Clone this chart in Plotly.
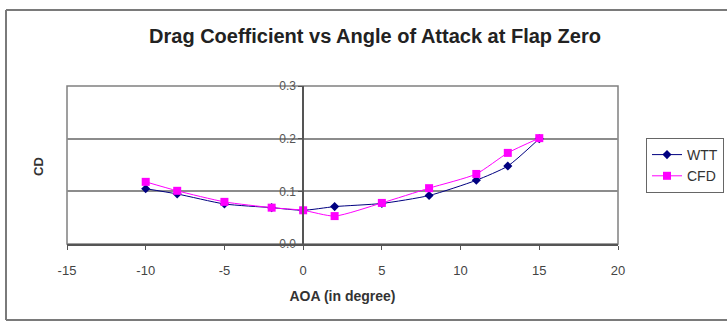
import plotly.graph_objects as go

aoa = [-10, -8, -5, -2, 0, 2, 5, 8, 11, 13, 15]
cd_wtt = [0.105, 0.095, 0.076, 0.069, 0.064, 0.071, 0.077, 0.092, 0.121, 0.148, 0.200]
cd_cfd = [0.118, 0.101, 0.080, 0.069, 0.064, 0.053, 0.078, 0.106, 0.133, 0.173, 0.201]
x_ticks = [-15, -10, -5, 0, 5, 10, 15, 20]
y_ticks = [0.0, 0.1, 0.2, 0.3]

W, H = 727, 322
L, R, T, B = 67, 618, 86, 244
pw, ph = R - L, B - T

fig = go.Figure()
fig.add_trace(go.Scatter(
    x=aoa, y=cd_wtt, name="WTT", mode="lines+markers",
    line=dict(color="#000080", width=1, shape="spline", smoothing=0.6),
    marker=dict(symbol="diamond", size=7, color="#000080"),
))
fig.add_trace(go.Scatter(
    x=aoa, y=cd_cfd, name="CFD", mode="lines+markers",
    line=dict(color="#FF00FF", width=1, shape="spline", smoothing=0.6),
    marker=dict(symbol="square", size=8, color="#FF00FF"),
))

def px(xp):
    return (xp - L) / pw

def py(yp):
    return (B - yp) / ph

border = dict(color="#7a7a7a", width=2)
shapes = [
    dict(type="rect", xref="paper", yref="paper", x0=0, x1=1, y0=0, y1=1,
         line=dict(color="#808080", width=1.5), layer="below"),
    # outer chart border (right edge is cut off in the picture)
    dict(type="line", xref="paper", yref="paper", x0=px(6), x1=px(6), y0=py(320), y1=py(10), line=border, layer="below"),
    dict(type="line", xref="paper", yref="paper", x0=px(6), x1=px(727), y0=py(10), y1=py(10), line=border, layer="below"),
    dict(type="line", xref="paper", yref="paper", x0=px(6), x1=px(727), y0=py(320), y1=py(320), line=border, layer="below"),
]

fig.update_layout(
    width=W, height=H,
    margin=dict(l=L, r=W - R, t=T, b=H - B, pad=0, autoexpand=False),
    paper_bgcolor="white", plot_bgcolor="white",
    font=dict(family="Liberation Sans, Arial, sans-serif", color="#333333", size=12),
    title=dict(text="<b>Drag Coefficient vs Angle of Attack at Flap Zero</b>",
               x=px(375), xanchor="center", xref="paper",
               y=1 - 36 / H, yanchor="middle",
               font=dict(size=20, color="#222222")),
    xaxis=dict(range=[-15, 20], tickvals=x_ticks, ticktext=[str(v) for v in x_ticks],
               showgrid=False, zeroline=False, showline=True, linecolor="#555555", linewidth=1.5,
               ticks="outside", ticklen=4, tickcolor="#555555", ticklabelstandoff=10,
               title=dict(text="<b>AOA (in degree)</b>", standoff=14, font=dict(size=14, color="#333333")),
               tickfont=dict(size=13, color="#444444"), fixedrange=True, automargin=False),
    yaxis=dict(range=[0, 0.3], tickvals=y_ticks, tickformat=".1f",
               anchor="free", position=15 / 35,
               showgrid=True, gridcolor="#8c8c8c", gridwidth=1.5,
               zeroline=False, showline=True, linecolor="#555555", linewidth=1.5,
               ticks="outside", ticklen=4, tickcolor="#555555",
               tickfont=dict(size=12, color="#555555"), fixedrange=True, automargin=False),
    shapes=shapes,
    annotations=[dict(text="<b>CD</b>", xref="paper", yref="paper", x=px(38), y=py(167),
                      textangle=-90, showarrow=False, font=dict(size=13, color="#333333"),
                      xanchor="center", yanchor="middle")],
    legend=dict(x=px(646), y=py(138), xanchor="left", yanchor="top",
                bordercolor="#666666", borderwidth=1, bgcolor="white",
                font=dict(size=14, color="#333333"), itemwidth=30, tracegroupgap=2),
    showlegend=True,
)

fig.write_html("out.html")
